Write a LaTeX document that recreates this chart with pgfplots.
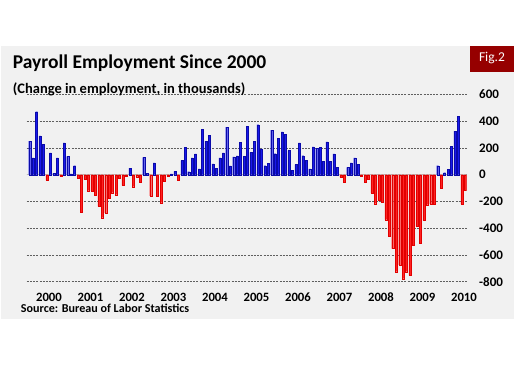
\documentclass[border=0pt]{standalone}
\usepackage{pgfplots}
\pgfplotsset{compat=1.18}
\usepackage{pgfplotstable}
\usepackage{fontspec}
\setmainfont{Carlito}
\definecolor{panel}{RGB}{241,241,241}
\definecolor{barblue}{RGB}{25,25,235}
\definecolor{barblueedge}{RGB}{10,10,170}
\definecolor{barred}{RGB}{255,35,35}
\definecolor{barrededge}{RGB}{225,0,0}
\definecolor{figred}{RGB}{150,0,0}
\definecolor{gridc}{RGB}{95,95,95}
\pgfplotstableread{
idx val
0 250
1 125
2 470
3 290
4 225
5 -42
6 162
7 12
8 125
9 -8
10 237
11 137
12 5
13 67
14 -25
15 -280
16 -37
17 -120
18 -122
19 -155
20 -237
21 -322
22 -285
23 -175
24 -135
25 -150
26 -25
27 -80
28 -8
29 48
30 -90
31 -15
32 -55
33 128
34 8
35 -158
36 88
37 -160
38 -210
39 -48
40 -8
41 5
42 25
43 -40
44 105
45 205
46 22
47 125
48 155
49 43
50 340
51 250
52 295
53 80
54 48
55 125
56 162
57 355
58 65
59 132
60 140
61 242
62 137
63 362
64 167
65 248
66 373
67 192
68 67
69 86
70 332
71 157
72 270
73 320
74 303
75 182
76 30
77 75
78 237
79 142
80 105
81 42
82 207
83 197
84 205
85 100
86 245
87 100
88 155
89 55
90 -20
91 -57
92 55
93 87
94 125
95 78
96 -8
97 -55
98 -35
99 -137
100 -217
101 -192
102 -205
103 -337
104 -457
105 -552
106 -725
107 -675
108 -777
109 -725
110 -752
111 -527
112 -387
113 -510
114 -340
115 -225
116 -220
117 -218
118 67
119 -100
120 15
121 40
122 212
123 325
124 435
125 -218
126 -118
}\payroll

\begin{document}
\begin{tikzpicture}
\path[use as bounding box] (0,0) rectangle (514pt,366pt);
\fill[panel] (1pt,47pt) rectangle (514pt,320pt);
\fill[figred] (470pt,294.3pt) rectangle (514pt,320pt);
\node[text=white, inner sep=0pt, font=\fontsize{13.5}{14}\selectfont] at (492pt,307.5pt) {Fig.2};
\begin{axis}[
  at={(26.7pt,84.3pt)}, anchor=south west,
  scale only axis, width=440pt, height=187.4pt,
  xmin=-0.84, xmax=126.4, ymin=-800, ymax=600,
  axis line style={draw=none},
  major tick length=0pt,
  ymajorgrids,
  major grid style={gridc, line width=0.5pt, dash pattern=on 2pt off 1.2pt},
  ytick={-800,-600,-400,-200,0,200,400,600},
  yticklabels={-800,-600,-400,-200,0,200,400,600},
  yticklabel pos=right,
  yticklabel style={anchor=west, xshift=9pt, font=\bfseries\fontsize{13}{13}\selectfont},
  xtick={5.6,17.6,29.6,41.6,53.6,65.6,77.6,89.6,101.6,113.6,125.6},
  xticklabels={2000,2001,2002,2003,2004,2005,2006,2007,2008,2009,2010},
  xticklabel style={anchor=center, yshift=-15.8pt, font=\bfseries\fontsize{12.7}{13}\selectfont},
  /pgf/number format/assume math mode=true,
  ybar, bar width=2.0pt,
]
\draw[gray!55, line width=0.9pt] (axis cs:-0.84,0) -- (axis cs:126.4,0);
\addplot[ybar, bar shift=0pt, fill=barblue, draw=barblueedge, line width=0.2pt,
  restrict y to domain=0:1000] table[x=idx, y=val] {\payroll};
\addplot[ybar, bar shift=0pt, fill=barred, draw=barrededge, line width=0.2pt,
  restrict y to domain=-1000:-0.001] table[x=idx, y=val] {\payroll};
\end{axis}
\node[anchor=base west, inner sep=0pt, font=\bfseries\fontsize{19.5}{20}\selectfont] at (12.7pt,297.5pt) {Payroll Employment Since 2000};
\node[anchor=base west, inner sep=0pt, font=\bfseries\fontsize{14.5}{15}\selectfont] at (12.7pt,272.5pt) {(Change in employment, in thousands)};
\node[anchor=base west, inner sep=0pt, font=\bfseries\fontsize{12.1}{12.5}\selectfont] at (20.7pt,53.5pt) {Source: Bureau of Labor Statistics};
\end{tikzpicture}
\end{document}
